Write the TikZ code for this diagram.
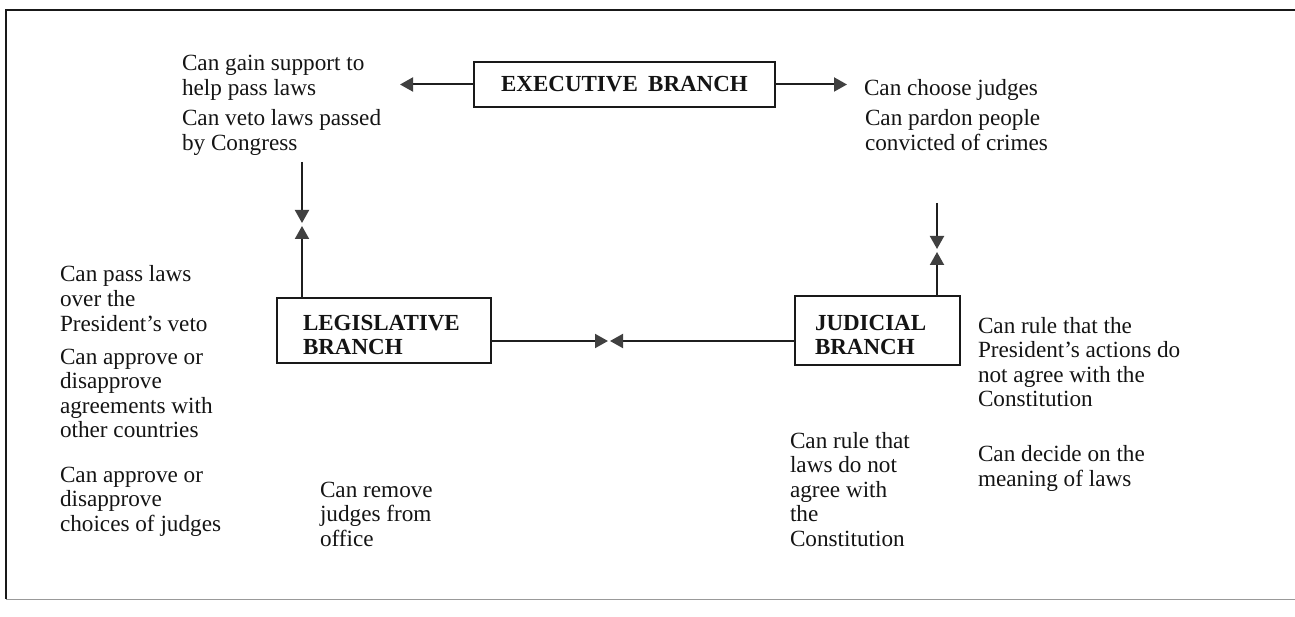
\documentclass[tikz,border=0pt]{standalone}
\usepackage{fontspec}
\setmainfont{Liberation Serif}
\usetikzlibrary{arrows.meta}
\begin{document}
\begin{tikzpicture}[x=1pt,y=-1pt,
  every node/.style={inner sep=0pt, outer sep=0pt, text=black!92},
  % multi-line texts are placed by the baseline of their last line
  note/.style={anchor=base west, align=left, font=\fontsize{23.2}{24.5}\selectfont},
  branch/.style={draw=black!90, line width=1.4pt, anchor=north west,
    font=\fontsize{23}{24.5}\selectfont\bfseries},
  title/.style={anchor=base west, align=left, font=\fontsize{23}{24.5}\selectfont\bfseries},
  link/.style={line width=2pt, draw=black!88},
  tip/.style={-{Triangle[length=13pt,width=14pt,color=black!75]}},
]
\useasboundingbox (0,0) rectangle (1295,617);

% outer frame
\draw[line width=1.6pt, black!90] (1295,10) -- (6,10) -- (6,599);
\draw[line width=1pt, black!40] (6,599) -- (1295,599);

% the three branches
\node[branch, minimum width=301, minimum height=45] (exec) at (474,62)
  {EXECUTIVE\hspace{0.45em}BRANCH};
\node[branch, minimum width=214, minimum height=65] (leg) at (277,298) {};
\node[title] (legTitle) at (303,355) {LEGISLATIVE\\BRANCH};
\node[branch, minimum width=165, minimum height=69] (jud) at (795,296) {};
\node[title] (judTitle) at (815,354.5) {JUDICIAL\\BRANCH};

% powers
\node[note] (support) at (182,95.5) {Can gain support to\\help pass laws};
\node[note] (choose) at (864,96) {Can choose judges};
\node[note] (veto) at (182,150.5) {Can veto laws passed\\by Congress};
\node[note] (pardon) at (865,150.5) {Can pardon people\\convicted of crimes};
\node[note] (override) at (60,331) {Can pass laws\\over the\\President’s veto};
\node[note] (treaty) at (60,437.5) {Can approve or\\disapprove\\agreements with\\other countries};
\node[note] (confirm) at (60,531) {Can approve or\\disapprove\\choices of judges};
\node[note] (remove) at (320,546) {Can remove\\judges from\\office};
\node[note] (actions) at (978,406.5) {Can rule that the\\President’s actions do\\not agree with the\\Constitution};
\node[note] (meaning) at (978,486) {Can decide on the\\meaning of laws};
\node[note] (review) at (790,546) {Can rule that\\laws do not\\agree with\\the\\Constitution};

% connector end points
\coordinate (supportTip) at (400,84.5);
\coordinate (chooseTip) at (847,84.5);
\coordinate (vetoTop) at (302,162);
\coordinate (vetoTip) at (302,223);
\coordinate (legTip) at (302,226);
\coordinate (pardonTop) at (937,203);
\coordinate (pardonTip) at (937,249);
\coordinate (judTip) at (937,252);
\coordinate (midL) at (608,341);
\coordinate (midR) at (610,341);

% connectors
\draw[link,tip] (exec.west) -- (supportTip);
\draw[link,tip] (exec.east) -- (chooseTip);
\draw[link,tip] (vetoTop) -- (vetoTip);
\draw[link,tip] (leg.north -| legTip) -- (legTip);
\draw[link,tip] (pardonTop) -- (pardonTip);
\draw[link,tip] (jud.north -| judTip) -- (judTip);
\draw[link,tip] (leg.east |- midL) -- (midL);
\draw[link,tip] (jud.west |- midR) -- (midR);
\end{tikzpicture}
\end{document}
